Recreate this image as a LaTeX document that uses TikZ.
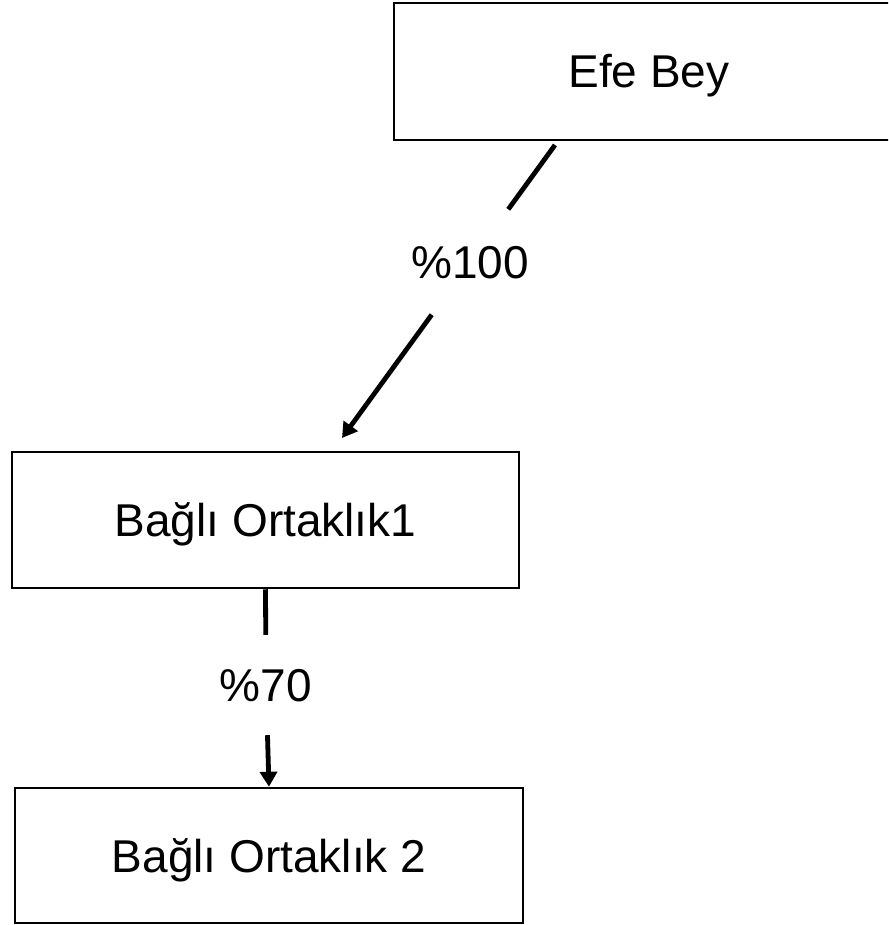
\documentclass[tikz,border=0pt]{standalone}
\usepackage{fontspec}
\setmainfont{Liberation Sans}
\usetikzlibrary{arrows.meta}

\begin{document}
\begin{tikzpicture}[x=1pt,y=-1pt,font=\fontsize{46}{55}\selectfont,
  kutu/.style={draw,line width=2.5pt,inner sep=0pt,text height=33pt,text depth=0pt},
  oran/.style={inner sep=0pt,minimum width=130pt,text height=33pt,text depth=0pt},
  bag/.style={line width=4.8pt},
  ok/.style={bag,-{Triangle[length=15pt,width=17pt]}}]
\useasboundingbox (0,0) rectangle (888,925);
\clip (0,0) rectangle (888,925);
  % kutular
  \node[kutu,minimum width=510pt,minimum height=137pt] (efe) at (649,71.5) {Efe Bey};
  \node[kutu,minimum width=507pt,minimum height=136pt] (bo1) at (265.5,520) {Bağlı Ortaklık1};
  \node[kutu,minimum width=508pt,minimum height=135pt] (bo2) at (269,855.5) {Bağlı Ortaklık 2};
  % oranlar
  \node[oran,minimum height=105pt] (p100) at (470,262) {\%100};
  \node[oran,minimum height=100pt] (p70) at (266,685) {\%70};
  \coordinate (a1) at (555,145);
  \coordinate (t1) at (342,438);
  % baglantilar
  \draw[bag] (a1) -- (p100);
  \draw[ok] (p100) -- (t1);
  \draw[bag] (bo1.south) -- (p70);
  \draw[ok] (p70) -- (bo2.north);
\end{tikzpicture}
\end{document}
